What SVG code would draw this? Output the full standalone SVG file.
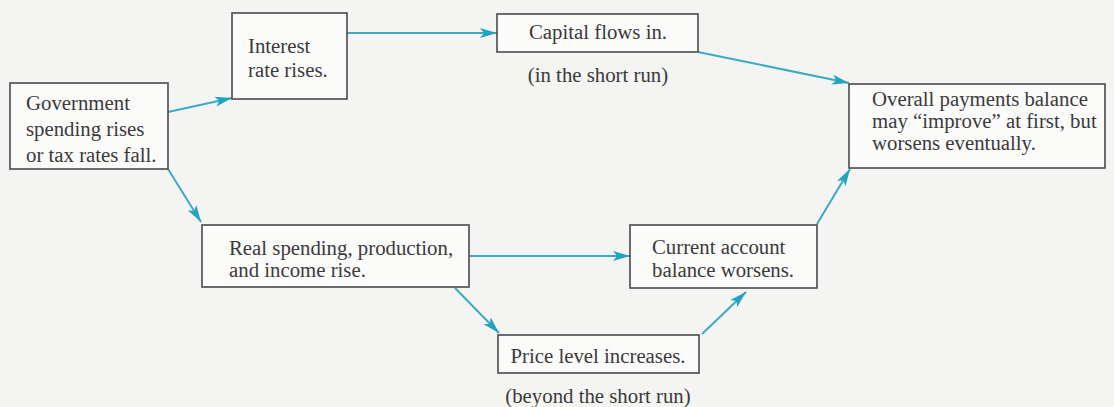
<svg xmlns="http://www.w3.org/2000/svg" width="1114" height="407" viewBox="0 0 1114 407">
<style>
.bg{fill:#f4f4f2}
.box{fill:#fbfbfa;stroke:#4a4a4a;stroke-width:1.6}
.t{font-family:"Liberation Serif","Times New Roman",serif;font-size:20.8px;fill:#3a3a3a}
.c{text-anchor:middle}
.ln{stroke:#3eaac2;stroke-width:2;fill:none;marker-end:url(#ah)}
</style>
<defs>
<marker id="ah" markerUnits="userSpaceOnUse" markerWidth="18" markerHeight="12" viewBox="0 -6 18 12" refX="17" refY="0" orient="auto">
<path d="M0,-5 L17,0 L0,5 L4,0 Z" fill="#22a3c2"/>
</marker>
</defs>
<rect class="bg" x="0" y="0" width="1114" height="407"/>
<g id="connectors">
<line class="ln" x1="168" y1="112" x2="232" y2="98"/>
<line class="ln" x1="347" y1="33" x2="497" y2="33"/>
<line class="ln" x1="698" y1="52" x2="849" y2="83"/>
<line class="ln" x1="168" y1="169" x2="201" y2="222"/>
<line class="ln" x1="469" y1="256" x2="630" y2="256"/>
<line class="ln" x1="455" y1="288" x2="499" y2="333"/>
<line class="ln" x1="702" y1="334" x2="746" y2="292"/>
<line class="ln" x1="817" y1="224" x2="850" y2="169"/>
</g>
<g id="gov">
<rect class="box" x="10" y="83" width="158" height="86"/>
<text class="t" x="26" y="110">Government</text>
<text class="t" x="26" y="136">spending rises</text>
<text class="t" x="26" y="162">or tax rates fall.</text>
</g>
<g id="interest">
<rect class="box" x="232" y="13" width="115" height="86"/>
<text class="t" x="248" y="53">Interest</text>
<text class="t" x="248" y="77">rate rises.</text>
</g>
<g id="capital">
<rect class="box" x="497" y="14" width="201" height="38"/>
<text class="t c" x="598" y="39">Capital flows in.</text>
<text class="t c" x="598" y="82">(in the short run)</text>
</g>
<g id="overall">
<rect class="box" x="849" y="84" width="256" height="84"/>
<text class="t" x="872" y="106">Overall payments balance</text>
<text class="t" x="872" y="128">may “improve” at first, but</text>
<text class="t" x="872" y="150">worsens eventually.</text>
</g>
<g id="real">
<rect class="box" x="202" y="225" width="267" height="62"/>
<text class="t" x="229" y="255">Real spending, production,</text>
<text class="t" x="229" y="277">and income rise.</text>
</g>
<g id="current">
<rect class="box" x="630" y="225" width="187" height="63"/>
<text class="t" x="652" y="254">Current account</text>
<text class="t" x="652" y="277">balance worsens.</text>
</g>
<g id="price">
<rect class="box" x="498" y="335" width="201" height="38"/>
<text class="t c" x="598" y="363">Price level increases.</text>
<text class="t c" x="598" y="403">(beyond the short run)</text>
</g>
</svg>
